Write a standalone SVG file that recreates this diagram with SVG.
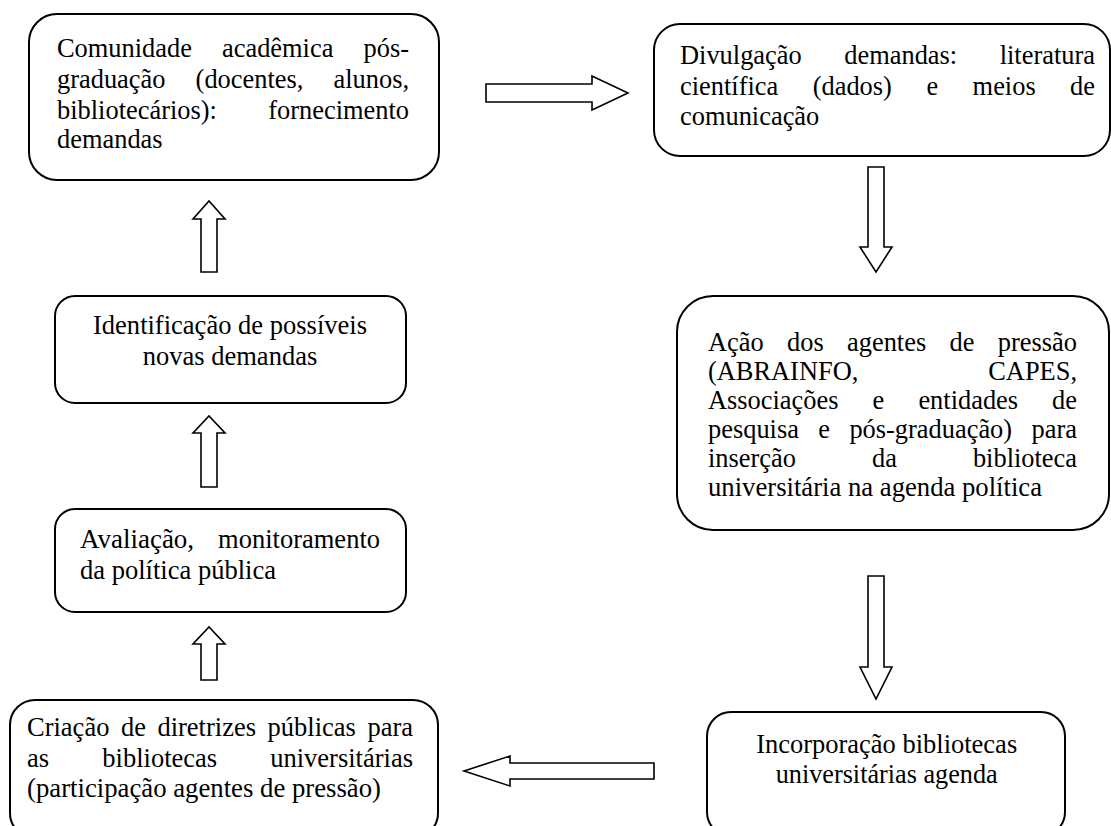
<svg xmlns="http://www.w3.org/2000/svg" width="1111" height="826" viewBox="0 0 1111 826">
<style>
.box{fill:#fff;stroke:#000;stroke-width:2}
.arr{fill:#fff;stroke:#000;stroke-width:1.6;stroke-linejoin:miter}
.m{text-anchor:middle}
</style>
<rect x="0" y="0" width="1111" height="826" fill="#fff"/>
<g id="connectors">
<polygon class="arr" points="486,84 592,84 592,76 628,93 592,110 592,102 486,102"/>
<polygon class="arr" points="868,167 884,167 884,247 892,247 876,272 860,247 868,247"/>
<polygon class="arr" points="868,576 884,576 884,667 892,667 876,699 860,667 868,667"/>
<polygon class="arr" points="654,763 510,763 510,756 464,771 510,786 510,779 654,779"/>
<polygon class="arr" points="201,272 201,219 193,219 209,201 225,219 217,219 217,272"/>
<polygon class="arr" points="201,487 201,433 193,433 209,416 225,433 217,433 217,487"/>
<polygon class="arr" points="201,680 201,644 193,644 209,627 225,644 217,644 217,680"/>
</g>
<g font-family="Liberation Serif, Times New Roman, serif" font-size="26.4" fill="#000" lengthAdjust="spacingAndGlyphs">
<g id="n1">
<rect class="box" x="29" y="14" width="410" height="166" rx="28"/>
<text x="57" y="57" textLength="134.9" lengthAdjust="spacingAndGlyphs">Comunidade</text>
<text x="222" y="57" textLength="111.4" lengthAdjust="spacingAndGlyphs">acadêmica</text>
<text x="363.5" y="57" textLength="45.5" lengthAdjust="spacingAndGlyphs">pós-</text>
<text x="57" y="88" textLength="108.5" lengthAdjust="spacingAndGlyphs">graduação</text>
<text x="195.6" y="88" textLength="107.8" lengthAdjust="spacingAndGlyphs">(docentes,</text>
<text x="333.5" y="88" textLength="75.5" lengthAdjust="spacingAndGlyphs">alunos,</text>
<text x="57" y="119" textLength="159.9" lengthAdjust="spacingAndGlyphs">bibliotecários):</text>
<text x="268.2" y="119" textLength="140.8" lengthAdjust="spacingAndGlyphs">fornecimento</text>
<text x="57" y="148" textLength="105.6" lengthAdjust="spacingAndGlyphs">demandas</text>
</g>
<g id="n2">
<rect class="box" x="654" y="24" width="456" height="132" rx="26"/>
<text x="680" y="64" textLength="121.7" lengthAdjust="spacingAndGlyphs">Divulgação</text>
<text x="844.3" y="64" textLength="112.9" lengthAdjust="spacingAndGlyphs">demandas:</text>
<text x="999.7" y="64" textLength="95.3" lengthAdjust="spacingAndGlyphs">literatura</text>
<text x="680" y="95" textLength="98.2" lengthAdjust="spacingAndGlyphs">científica</text>
<text x="812.7" y="95" textLength="79.2" lengthAdjust="spacingAndGlyphs">(dados)</text>
<text x="926.4" y="95" textLength="11.7" lengthAdjust="spacingAndGlyphs">e</text>
<text x="972.6" y="95" textLength="63.1" lengthAdjust="spacingAndGlyphs">meios</text>
<text x="1070.1" y="95" textLength="24.9" lengthAdjust="spacingAndGlyphs">de</text>
<text x="680" y="125" textLength="139.3" lengthAdjust="spacingAndGlyphs">comunicação</text>
</g>
<g id="n3">
<rect class="box" x="677" y="296" width="432" height="234" rx="36"/>
<text x="708" y="351" textLength="55.7" lengthAdjust="spacingAndGlyphs">Ação</text>
<text x="787" y="351" textLength="36.7" lengthAdjust="spacingAndGlyphs">dos</text>
<text x="847" y="351" textLength="79.2" lengthAdjust="spacingAndGlyphs">agentes</text>
<text x="949.5" y="351" textLength="24.9" lengthAdjust="spacingAndGlyphs">de</text>
<text x="997.8" y="351" textLength="79.2" lengthAdjust="spacingAndGlyphs">pressão</text>
<text x="708" y="380" textLength="150.3" lengthAdjust="spacingAndGlyphs">(ABRAINFO,</text>
<text x="988.2" y="380" textLength="88.8" lengthAdjust="spacingAndGlyphs">CAPES,</text>
<text x="708" y="409" textLength="130.5" lengthAdjust="spacingAndGlyphs">Associações</text>
<text x="872.6" y="409" textLength="11.7" lengthAdjust="spacingAndGlyphs">e</text>
<text x="918.4" y="409" textLength="99.7" lengthAdjust="spacingAndGlyphs">entidades</text>
<text x="1052.1" y="409" textLength="24.9" lengthAdjust="spacingAndGlyphs">de</text>
<text x="708" y="438" textLength="90.9" lengthAdjust="spacingAndGlyphs">pesquisa</text>
<text x="818.3" y="438" textLength="11.7" lengthAdjust="spacingAndGlyphs">e</text>
<text x="849.4" y="438" textLength="162.7" lengthAdjust="spacingAndGlyphs">pós-graduação)</text>
<text x="1031.6" y="438" textLength="45.4" lengthAdjust="spacingAndGlyphs">para</text>
<text x="708" y="467" textLength="88" lengthAdjust="spacingAndGlyphs">inserção</text>
<text x="872" y="467" textLength="24.9" lengthAdjust="spacingAndGlyphs">da</text>
<text x="972.9" y="467" textLength="104.1" lengthAdjust="spacingAndGlyphs">biblioteca</text>
<text x="708" y="496" textLength="334" lengthAdjust="spacingAndGlyphs">universitária na agenda política</text>
</g>
<g id="n4">
<rect class="box" x="55" y="296" width="351" height="107" rx="20"/>
<text class="m" x="230" y="334" textLength="274" lengthAdjust="spacingAndGlyphs">Identificação de possíveis</text>
<text class="m" x="230" y="365" textLength="174.5" lengthAdjust="spacingAndGlyphs">novas demandas</text>
</g>
<g id="n5">
<rect class="box" x="55" y="509" width="351" height="103" rx="20"/>
<text x="80" y="548" textLength="114.1" lengthAdjust="spacingAndGlyphs">Avaliação,</text>
<text x="218.1" y="548" textLength="161.9" lengthAdjust="spacingAndGlyphs">monitoramento</text>
<text x="80" y="579" textLength="196" lengthAdjust="spacingAndGlyphs">da política pública</text>
</g>
<g id="n6">
<rect class="box" x="10" y="700" width="428" height="138" rx="25"/>
<text x="27" y="736" textLength="82.4" lengthAdjust="spacingAndGlyphs">Criação</text>
<text x="121" y="736" textLength="24.9" lengthAdjust="spacingAndGlyphs">de</text>
<text x="157.4" y="736" textLength="98.6" lengthAdjust="spacingAndGlyphs">diretrizes</text>
<text x="267.6" y="736" textLength="88.3" lengthAdjust="spacingAndGlyphs">públicas</text>
<text x="367.4" y="736" textLength="45.6" lengthAdjust="spacingAndGlyphs">para</text>
<text x="27" y="767" textLength="22.1" lengthAdjust="spacingAndGlyphs">as</text>
<text x="102.3" y="767" textLength="114.8" lengthAdjust="spacingAndGlyphs">bibliotecas</text>
<text x="270.2" y="767" textLength="142.8" lengthAdjust="spacingAndGlyphs">universitárias</text>
<text x="27" y="797" textLength="354" lengthAdjust="spacingAndGlyphs">(participação agentes de pressão)</text>
</g>
<g id="n7">
<rect class="box" x="707" y="712" width="358" height="124" rx="24"/>
<text class="m" x="886.7" y="753" textLength="261" lengthAdjust="spacingAndGlyphs">Incorporação bibliotecas</text>
<text class="m" x="886.7" y="783" textLength="222" lengthAdjust="spacingAndGlyphs">universitárias agenda</text>
</g>
</g>
</svg>
